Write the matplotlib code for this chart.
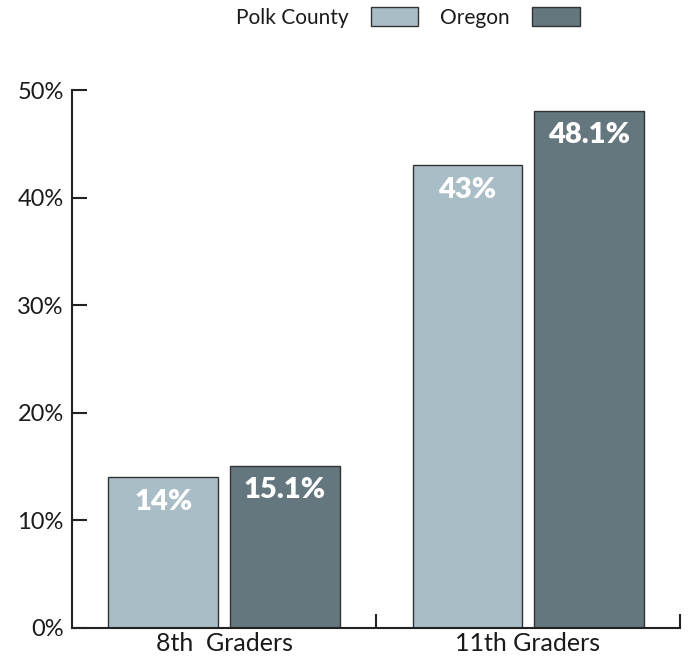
import numpy as np
import matplotlib.pyplot as plt
from matplotlib.ticker import FixedLocator

plt.rcParams['font.family'] = ['Lato', 'DejaVu Sans']

# data
groups = ['8th  Graders', '11th Graders']
series = ['Polk County', 'Oregon']
polk = [14, 43]
oregon = [15.1, 48.1]
labels_polk = ['14%', '43%']
labels_oregon = ['15.1%', '48.1%']
colors = ['#A9BDC6', '#64767E']

fig = plt.figure(figsize=(6.89, 6.6), dpi=100)
ax = fig.add_axes([0.1045, 0.0485, 0.8825, 0.815])

x = np.arange(len(groups))
w = 0.36
off = 0.2
b1 = ax.bar(x - off, polk, w, color=colors[0], edgecolor='#333333', linewidth=1, label=series[0])
b2 = ax.bar(x + off, oregon, w, color=colors[1], edgecolor='#333333', linewidth=1, label=series[1])

for bars, labs in [(b1, labels_polk), (b2, labels_oregon)]:
    for r, t in zip(bars, labs):
        ax.text(r.get_x() + r.get_width() / 2, r.get_height() - 2.3, t,
                ha='center', va='center', color='white', fontsize=21, fontweight='heavy')

ax.set_xlim(-0.5, 1.5)
ax.set_ylim(0, 50)
ax.set_yticks(range(0, 51, 10))
ax.set_yticklabels([f'{v}%' for v in range(0, 51, 10)], fontsize=17, color='#1a1a1a')
ax.set_xticks(x)
ax.set_xticklabels(groups, fontsize=18, color='#1a1a1a')
ax.tick_params(axis='x', which='major', length=0, pad=3)
ax.xaxis.set_minor_locator(FixedLocator([0.5, 1.5]))
ax.tick_params(axis='x', which='minor', direction='in', length=10, width=1.5, color='#222222')
ax.tick_params(axis='y', direction='in', length=11, width=1.5, color='#222222', pad=6)

for s in ['top', 'right']:
    ax.spines[s].set_visible(False)
for s in ['left', 'bottom']:
    ax.spines[s].set_linewidth(1.5)
    ax.spines[s].set_color('#222222')

leg = fig.legend(handles=[b1, b2], labels=series, loc='center', bbox_to_anchor=(0.592, 0.9735),
                 ncol=2, frameon=False, markerfirst=False, fontsize=15, handlelength=2.3,
                 handleheight=1.0, columnspacing=1.05, handletextpad=1.05)
for h in leg.legend_handles:
    h.set_edgecolor('#333333')
for t in leg.get_texts():
    t.set_color('#1a1a1a')

fig.savefig('out.png', dpi=100)
